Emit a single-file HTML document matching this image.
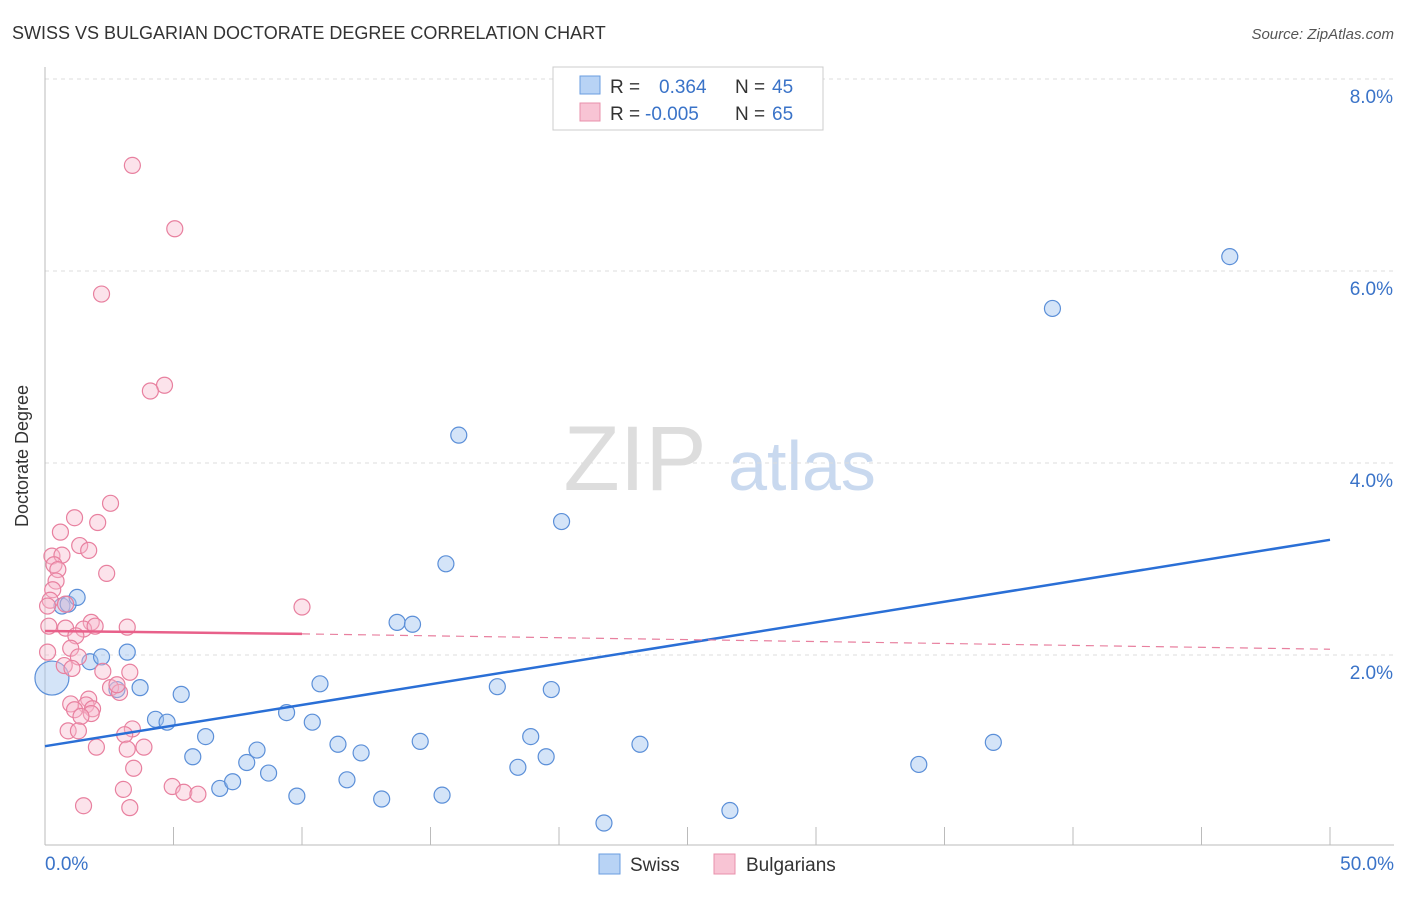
<!DOCTYPE html>
<html><head><meta charset="utf-8"><style>
body{margin:0;background:#fff;font-family:"Liberation Sans",sans-serif}
svg text{font-family:"Liberation Sans",sans-serif}
</style></head><body>
<svg id="c" width="1406" height="892">
<text x="12" y="39" font-size="18" fill="#333">SWISS VS BULGARIAN DOCTORATE DEGREE CORRELATION CHART</text>
<text x="1394" y="39" font-size="15" fill="#555" text-anchor="end" font-style="italic">Source: ZipAtlas.com</text>
<text x="28" y="456" font-size="18" fill="#333" text-anchor="middle" transform="rotate(-90 28 456)">Doctorate Degree</text>
<g><text x="635" y="490" font-size="92" fill="#ddd" text-anchor="middle" font-family="Liberation Serif">ZIP</text><text x="802" y="490" font-size="70" fill="#c9d9ef" text-anchor="middle">atlas</text></g>
<g id="grid"></g><g id="marks"></g>
<g>
<rect x="553" y="67" width="270" height="63" fill="#fff" stroke="#ccc"/>
<rect x="580" y="76" width="20" height="18" fill="#b8d3f5" stroke="#6a9ee0"/>
<text x="610" y="93" font-size="19" fill="#333">R =</text><text x="659" y="93" font-size="19" fill="#3a73c8">0.364</text>
<text x="735" y="93" font-size="19" fill="#333">N =</text><text x="772" y="93" font-size="19" fill="#3a73c8">45</text>
<rect x="580" y="103" width="20" height="18" fill="#f8c4d4" stroke="#e890ab"/>
<text x="610" y="120" font-size="19" fill="#333">R =</text><text x="645" y="120" font-size="19" fill="#3a73c8">-0.005</text>
<text x="735" y="120" font-size="19" fill="#333">N =</text><text x="772" y="120" font-size="19" fill="#3a73c8">65</text>
</g>
<g>
<rect x="599" y="854" width="21" height="20" fill="#b8d3f5" stroke="#6a9ee0"/><text x="630" y="871" font-size="19" fill="#333">Swiss</text>
<rect x="714" y="854" width="21" height="20" fill="#f8c4d4" stroke="#e890ab"/><text x="746" y="871" font-size="19" fill="#333">Bulgarians</text>
</g>
</svg>
<script>
const yTicks=[2,4,6,8];
const yTickLabels=["2.0%","4.0%","6.0%","8.0%"];
const xTickLabels=["0.0%","50.0%"];
const swissX=[0.27,0.66,0.9,1.25,1.75,2.2,2.8,3.2,3.7,4.3,4.75,5.3,5.75,6.25,6.8,7.3,7.85,8.25,8.7,9.4,9.8,10.4,10.7,11.4,11.75,12.3,13.1,13.7,14.3,14.6,15.45,15.6,16.1,17.6,18.4,18.9,19.5,19.7,20.1,21.75,23.15,26.65,34.0,36.9,39.2,46.1];
const swissY=[1.76,2.51,2.53,2.60,1.93,1.98,1.64,2.03,1.66,1.33,1.30,1.59,0.94,1.15,0.61,0.68,0.88,1.01,0.77,1.40,0.53,1.30,1.70,1.07,0.70,0.98,0.50,2.34,2.32,1.10,0.54,2.95,4.29,1.67,0.83,1.15,0.94,1.64,3.39,0.25,1.07,0.38,0.86,1.09,5.61,6.15];
const bulgX=[3.4,5.05,2.2,4.65,4.1,2.55,1.15,2.05,0.6,1.35,1.7,0.27,0.66,0.35,0.5,2.4,0.43,0.3,0.2,0.1,0.8,10.0,1.8,0.15,0.8,1.5,3.2,1.95,1.2,1.0,0.1,1.3,0.75,1.05,2.25,3.3,2.55,2.9,1.7,2.8,1.0,1.6,1.15,1.85,1.8,1.4,0.9,1.3,3.4,3.1,2.0,3.2,3.85,3.45,4.95,5.4,5.95,3.05,1.5,3.3];
const bulgY=[7.10,6.44,5.76,4.81,4.75,3.58,3.43,3.38,3.28,3.14,3.09,3.03,3.04,2.94,2.89,2.85,2.77,2.68,2.57,2.51,2.53,2.50,2.34,2.30,2.28,2.27,2.29,2.30,2.20,2.07,2.03,1.98,1.89,1.86,1.83,1.82,1.66,1.61,1.54,1.69,1.49,1.48,1.43,1.44,1.39,1.36,1.21,1.21,1.23,1.17,1.04,1.02,1.04,0.82,0.63,0.57,0.55,0.60,0.43,0.41];
const swissTrend=[1.05,3.20];
const bulgTrend=[2.25,2.22,2.06];
const X=v=>45+v/50*1285, Y=v=>847-v*96;
const NS="http://www.w3.org/2000/svg";
function mk(p,t,a){const e=document.createElementNS(NS,t);for(const k in a)e.setAttribute(k,a[k]);p.appendChild(e);return e;}
const g=document.getElementById('grid'),m=document.getElementById('marks');
yTicks.forEach((t,i)=>{const l=mk(g,'line',{x1:45,x2:1394,y1:Y(t),y2:Y(t),stroke:'#ddd','stroke-dasharray':'4,4'});


const tx=mk(g,'text',{x:1393,y:Y(t)+24,'font-size':19,fill:'#3a73c8','text-anchor':'end'});tx.textContent=yTickLabels[i];

});
const ax=mk(g,'line',{x1:45,x2:1394,y1:845,y2:845,stroke:'#bbb'});


const ay=mk(g,'line',{x1:45,x2:45,y1:67,y2:845,stroke:'#bbb'});


for(let i=1;i<=10;i++){const t=mk(g,'line',{x1:X(i*5),x2:X(i*5),y1:827,y2:845,stroke:'#bbb'});

}
[[0,'start',45],[50,'end',1394]].forEach((d,i)=>{const t=mk(g,'text',{x:d[2],y:870,'font-size':19,fill:'#3a73c8','text-anchor':d[1]});t.textContent=xTickLabels[i];

});
swissX.forEach((x,i)=>{const c=mk(m,'circle',{cx:X(x),cy:Y(swissY[i]),r:i==0?17:8,fill:'rgba(160,195,240,0.45)',stroke:'#5b8fd8','stroke-width':1.2});

});
bulgX.forEach((x,i)=>{const c=mk(m,'circle',{cx:X(x),cy:Y(bulgY[i]),r:8,fill:'rgba(248,185,205,0.4)',stroke:'#e8809f','stroke-width':1.2});

});
const bl=mk(m,'line',{x1:X(0),y1:Y(swissTrend[0]),x2:X(50),y2:Y(swissTrend[1]),stroke:'#2a6fd6','stroke-width':2.5});


const pl=mk(m,'line',{x1:X(0),y1:Y(bulgTrend[0]),x2:X(10),y2:Y(bulgTrend[1]),stroke:'#e8608a','stroke-width':2.5});


const pd=mk(m,'line',{x1:X(10),y1:Y(bulgTrend[1]),x2:X(50),y2:Y(bulgTrend[2]),stroke:'#e8809f','stroke-width':1.2,'stroke-dasharray':'8,6'});


</script>
</body></html>
